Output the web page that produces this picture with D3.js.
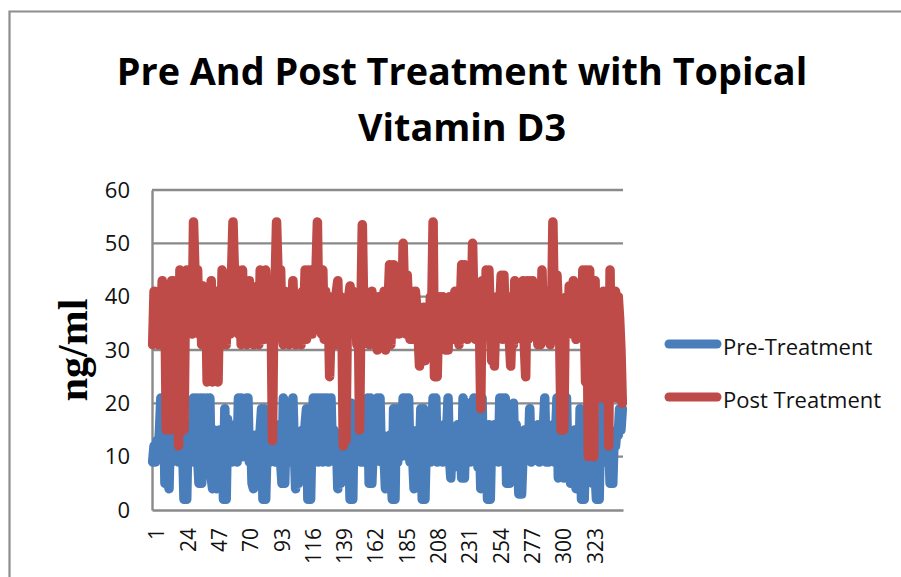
<!DOCTYPE html>
<html>
<head>
<meta charset="utf-8">
<script src="https://cdn.jsdelivr.net/npm/d3@7"></script>
<style>
  html, body { margin: 0; padding: 0; background: #fff; overflow: hidden; }
</style>
</head>
<body>
<div class="container"></div>
<script>
const titleLines = ["Pre And Post Treatment with Topical", "Vitamin D3"]
const yTicks = [0, 10, 20, 30, 40, 50, 60]
const xTicks = [1, 24, 47, 70, 93, 116, 139, 162, 185, 208, 231, 254, 277, 300, 323]
const seriesNames = ["Pre-Treatment", "Post Treatment"]
const seriesColors = ["#4a7ebb", "#be4b48"]

// 20 values a row (about 27px of chart)
const preTreatment = [
  9,12,9,13,10,15,21,12,21,5,14,6,4,15,9,12,16,10,15,9,
  14,9,12,2,14,2,16,10,15,9,21,13,21,10,5,21,5,21,10,13,
  21,9,21,6,4,15,6,4,13,15,9,14,2,19,2,17,10,16,9,14,
  10,13,9,21,12,21,10,20,13,21,21,9,14,5,4,14,8,13,10,15,
  19,2,19,2,12,15,9,14,10,15,9,13,10,16,9,5,21,5,15,9,
  14,10,9,21,12,4,14,5,13,10,15,9,16,19,2,19,2,14,21,9,
  13,21,9,21,13,9,21,10,21,9,14,21,10,15,9,13,4,14,5,12,
  15,9,13,10,14,2,20,2,19,9,14,10,15,9,13,9,14,10,21,5,
  21,5,12,9,13,21,10,21,9,14,10,4,13,5,14,9,2,19,2,19,
  9,15,10,14,21,12,21,10,21,9,15,10,4,13,5,15,10,19,2,19,
  2,13,10,15,9,14,21,11,21,9,14,10,15,9,16,10,15,21,10,6,
  15,8,14,10,16,9,13,6,21,6,15,10,20,9,16,10,21,9,17,8,
  15,4,21,4,14,9,2,16,2,14,10,16,10,15,9,21,10,21,9,21,
  5,14,5,13,9,20,10,16,9,3,14,3,10,15,11,13,11,19,9,15,
  10,14,11,16,9,15,10,15,21,9,12,9,14,11,16,9,14,21,6,21,
  8,21,6,15,21,8,14,5,13,6,15,4,13,5,19,2,14,2,13,6,
  14,6,13,5,15,7,2,16,2,16,9,21,9,15,9,14,5,13,5,14,
  12,15,14,19,15,19
]
const postTreatment = [
  31,41,33,40,31,41,34,43,36,38,15,42,36,15,43,43,17,40,31,12,
  45,16,43,15,38,45,33,41,36,33,54,45,36,45,33,41,31,42,31,40,
  24,41,36,43,24,40,38,41,24,38,31,45,33,43,31,40,36,33,45,54,
  45,36,45,33,42,31,45,34,41,31,40,43,33,41,31,39,35,42,31,45,
  34,43,32,45,33,41,36,38,13,38,43,54,45,36,45,33,31,41,34,40,
  31,40,33,43,36,31,40,33,39,31,41,36,45,32,45,38,45,33,41,36,
  45,54,36,45,33,45,32,41,36,38,25,34,40,36,31,41,43,33,40,36,
  12,38,13,36,40,42,36,41,33,39,31,38,15,38,53.5,38,41,33,40,31,
  38,41,36,31,39,30,40,34,38,33,41,30,36,39,46,31,41,46,33,40,
  41,33,44,36,50,40,33,44,38,32,41,36,32,41,38,33,27,36,29,38,
  28,38,36,33,40,38,54,25,38,25,36,40,33,40,36,30,38,30,40,33,
  39,32,41,34,38,31,38,46,33,46,38,32,44,33,36,50,38,32,40,32,
  36,19,43,38,34,45,33,45,36,28,38,27,36,40,34,38,44,32,44,36,
  33,40,32,27,36,31,43,33,40,33,38,32,43,31,25,43,32,43,33,43,
  33,40,36,31,41,31,45,33,40,36,33,41,31,36,54,38,33,44,38,32,
  15,38,15,36,40,33,42,36,33,43,36,32,40,34,41,33,45,38,24,45,
  10,45,22,41,10,43,23,40,22,36,21,41,21,38,41,12,45,21,38,22,
  41,21,40,36,30,20
]
const categories = preTreatment.map((v, i) => i + 1)

const svg = d3.select(".container").append("svg")
svg.attr("width", 901).attr("height", 577).style("display", "block")

// outer chart frame runs off the picture on the right and bottom
svg.append("path")
  .attr("d", "M9.5,590V11.5H915")
  .attr("fill", "none")
  .attr("stroke", "#8e8e8e")
  .attr("stroke-width", 2.2)

const x = d3.scaleBand().domain(categories).range([152, 623])
const y = d3.scaleLinear().domain([0, 60]).range([510, 190])
const xMid = d => x(d) + x.bandwidth() / 2

// grid
svg.append("g").selectAll("line").data(yTicks.slice(1)).enter()
  .append("line")
  .attr("x1", 152).attr("x2", 623)
  .attr("y1", d => y(d)).attr("y2", d => y(d))
  .attr("stroke", "#8a8a8a")
  .attr("stroke-width", 2.4)

const yAxis = svg.append("g")
  .attr("transform", "translate(152,0)")
  .call(d3.axisLeft(y).tickValues(yTicks).tickSize(0).tickPadding(22))
yAxis.select(".domain").attr("stroke", "#8a8a8a").attr("stroke-width", 2.4)
yAxis.selectAll("text")
  .attr("font-family", "'Open Sans', sans-serif")
  .attr("font-size", 22)
  .attr("fill", "#111")

const xAxis = svg.append("g")
  .attr("transform", "translate(0,510)")
  .call(d3.axisBottom(x).tickValues(xTicks).tickSize(0))
xAxis.select(".domain").attr("stroke", "#8a8a8a").attr("stroke-width", 2.4)
xAxis.selectAll("text")
  .attr("font-family", "'Open Sans', sans-serif")
  .attr("font-size", 21)
  .attr("fill", "#111")
  .attr("text-anchor", "end")
  .attr("dy", 0)
  .attr("transform", "translate(3,18) rotate(-90)")
  .attr("dominant-baseline", "middle")

const line = d3.line().x((d, i) => xMid(categories[i])).y(d => y(d))

;[preTreatment, postTreatment].forEach((values, k) => {
  svg.append("path")
    .attr("d", line(values))
    .attr("fill", "none")
    .attr("stroke", seriesColors[k])
    .attr("stroke-width", 9.5)
    .attr("stroke-linecap", "round")
    .attr("stroke-linejoin", "round")
})

// title
svg.append("g").selectAll("text").data(titleLines).enter()
  .append("text")
  .attr("x", 462)
  .attr("y", (d, i) => 85 + i * 56)
  .attr("text-anchor", "middle")
  .attr("font-family", "'Open Sans', sans-serif")
  .attr("font-weight", 700)
  .attr("font-size", 37.8)
  .attr("fill", "#000")
  .text(d => d)

svg.append("text")
  .attr("transform", "translate(87,350) rotate(-90)")
  .attr("text-anchor", "middle")
  .attr("font-family", "'Liberation Serif', serif")
  .attr("font-weight", 700)
  .attr("font-size", 42)
  .attr("fill", "#000")
  .text("ng/ml")

// legend
const legendY = [344, 397]
seriesNames.forEach((name, k) => {
  svg.append("line")
    .attr("x1", 669).attr("x2", 717)
    .attr("y1", legendY[k]).attr("y2", legendY[k])
    .attr("stroke", seriesColors[k])
    .attr("stroke-width", 9)
    .attr("stroke-linecap", "round")
  svg.append("text")
    .attr("x", 723)
    .attr("y", legendY[k] + 10.5)
    .attr("font-family", "'Open Sans', sans-serif")
    .attr("font-size", 22)
    .attr("fill", "#111")
    .text(name)
})
</script>
</body>
</html>
